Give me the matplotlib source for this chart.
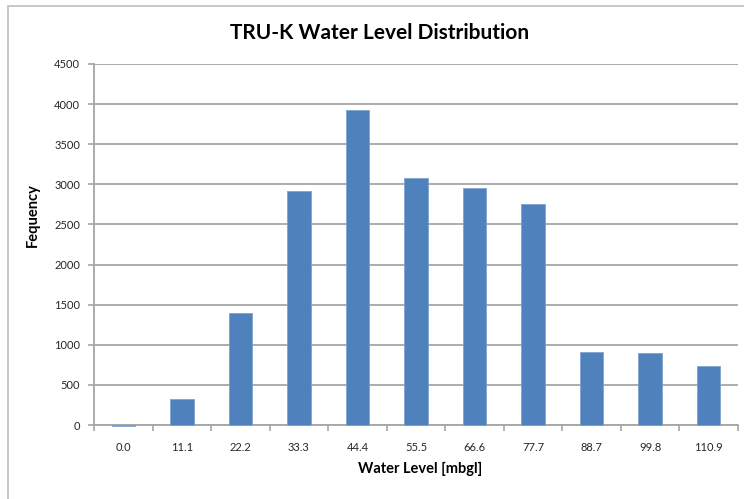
import matplotlib
matplotlib.use("Agg")
import matplotlib.pyplot as plt
import numpy as np

# data
water_levels = ["0.0", "11.1", "22.2", "33.3", "44.4", "55.5", "66.6", "77.7", "88.7", "99.8", "110.9"]
frequency = [-12, 320, 1400, 2920, 3930, 3080, 2960, 2760, 910, 900, 740]
y_ticks = [0, 500, 1000, 1500, 2000, 2500, 3000, 3500, 4000, 4500]

BAR_COLOR = "#4F81BD"
GRID_COLOR = "#A6A6A6"
TEXT_COLOR = "#262626"
FONT = ["Lato", "DejaVu Sans"]

fig = plt.figure(figsize=(7.44, 4.99), dpi=100)

# outer chart frame
fig.patches.append(plt.Rectangle((8 / 744, -0.01), 1.0, 1 - 6 / 499 + 0.01,
                                 transform=fig.transFigure, fill=False,
                                 edgecolor="#BFBFBF", linewidth=1.2))

ax = fig.add_axes([94 / 744, 74 / 499, 644 / 744, 361 / 499])

x = np.arange(len(water_levels))
bars = ax.bar(x, frequency, width=0.4, color=BAR_COLOR, edgecolor="#7FA3D0",
              linewidth=0.6, zorder=3)
for b in bars:
    b.set_clip_on(False)  # the small negative bar hangs below the axis

ax.set_xlim(-0.5, len(water_levels) - 0.5)
ax.set_ylim(0, 4500)
ax.set_yticks(y_ticks)
ax.set_yticklabels([str(v) for v in y_ticks], fontsize=8, family=FONT, color=TEXT_COLOR)
ax.grid(axis="y", color=GRID_COLOR, linewidth=1.3, zorder=0)

# x ticks sit between categories, labels at centres
ax.set_xticks(np.arange(-0.5, len(water_levels), 1.0))
ax.set_xticklabels([])
ax.set_xticks(x, minor=True)
ax.set_xticklabels(water_levels, minor=True, fontsize=8, family=FONT, color=TEXT_COLOR)
ax.tick_params(axis="x", which="minor", length=0, pad=12)
ax.tick_params(axis="x", which="major", length=4, color=GRID_COLOR, width=1.2)
ax.tick_params(axis="y", length=4, color=GRID_COLOR, width=1.2, pad=6)

for side in ["top", "right"]:
    ax.spines[side].set_visible(False)
for side in ["left", "bottom"]:
    ax.spines[side].set_color(GRID_COLOR)
    ax.spines[side].set_linewidth(1.3)
    ax.spines[side].set_zorder(2)

fig.text(380 / 744, 1 - 33 / 499, "TRU-K Water Level Distribution", ha="center",
         va="center", fontsize=15, fontweight="bold", family=FONT)
fig.text(420 / 744, 1 - 469 / 499, "Water Level [mbgl]", ha="center", va="center",
         fontsize=10.5, fontweight="bold", family=FONT)
fig.text(33 / 744, 1 - 215 / 499, "Fequency", ha="center", va="center",
         rotation=90, fontsize=10.5, fontweight="bold", family=FONT)

fig.savefig("out.png", dpi=100)
